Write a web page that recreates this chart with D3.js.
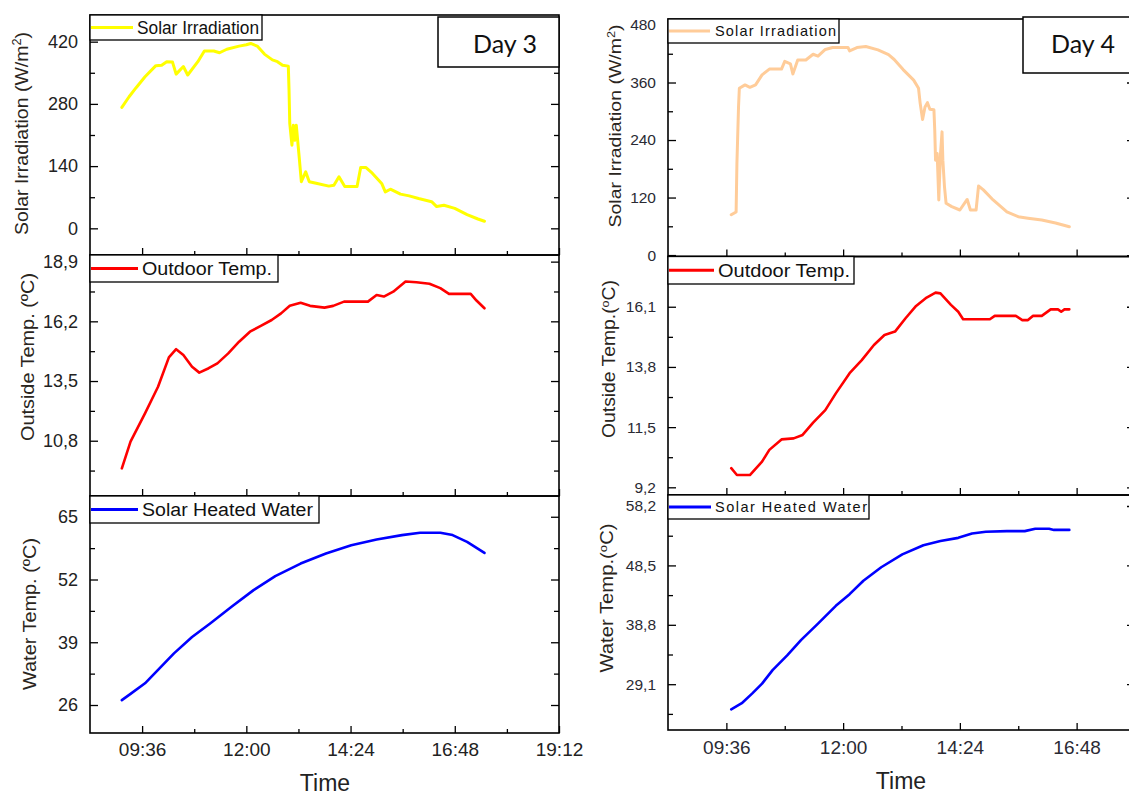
<!DOCTYPE html>
<html><head><meta charset="utf-8">
<script src="https://cdn.jsdelivr.net/npm/d3@7/dist/d3.min.js"></script>
<style>body{margin:0;background:#fff}svg{display:block}</style>
</head><body>
<svg id="c" width="1129" height="797"></svg>
<script>
// ---------------- DATA ----------------
const day3Irradiation = [["09:08",272],["09:18",296],["09:28",317],["09:40",341],["09:55",366],["10:03",367],["10:10",375],["10:18",374],["10:23",347],["10:33",364],["10:39",345],["10:53",375],["11:02",399],["11:15",399],["11:23",395],["11:33",403],["11:50",410],["12:00",413],["12:06",416],["12:15",410],["12:25",392],["12:36",379],["12:43",375],["12:50",367],["12:58",365],["12:59",311],["13:00",236],["13:03",187],["13:05",232],["13:07",198],["13:09",232],["13:13",161],["13:16",105],["13:22",127],["13:27",105],["13:38",101],["13:54",95],["14:01",97],["14:08",116],["14:16",94],["14:33",94],["14:38",137],["14:45",137],["14:54",124],["15:07",101],["15:12",82],["15:19",88],["15:33",77],["15:45",73],["15:58",67],["16:16",60],["16:23",49],["16:33",52],["16:48",45],["17:05",31],["17:20",21],["17:29",16]];
const day3Outdoor = [["09:08",9.55],["09:20",10.76],["09:40",12.04],["09:58",13.24],["10:13",14.57],["10:23",14.94],["10:33",14.68],["10:45",14.15],["10:55",13.88],["11:08",14.08],["11:20",14.30],["11:35",14.75],["11:50",15.28],["12:05",15.73],["12:20",15.99],["12:35",16.26],["12:48",16.56],["13:00",16.90],["13:15",17.04],["13:28",16.90],["13:48",16.82],["14:00",16.90],["14:15",17.09],["14:48",17.09],["15:00",17.39],["15:10",17.32],["15:23",17.54],["15:40",18.00],["15:55",17.97],["16:13",17.90],["16:28",17.70],["16:40",17.44],["17:10",17.44],["17:18",17.14],["17:29",16.79]];
const day3Water = [["09:08",27.0],["09:20",28.3],["09:40",30.5],["10:00",33.6],["10:20",36.7],["10:45",40.1],["11:10",42.9],["11:40",46.4],["12:10",49.8],["12:40",52.7],["13:15",55.3],["13:50",57.4],["14:25",59.1],["15:00",60.3],["15:35",61.2],["16:00",61.7],["16:28",61.7],["16:45",61.2],["17:05",59.8],["17:29",57.5]];

const day4Irradiation = [["09:42",84],["09:48",90],["09:49",191],["09:51",310],["09:52",348],["09:59",355],["10:05",350],["10:12",355],["10:20",376],["10:29",388],["10:44",388],["10:48",404],["10:55",399],["10:58",378],["11:04",407],["11:14",407],["11:23",419],["11:29",415],["11:38",429],["11:47",433],["12:06",433],["12:08",426],["12:17",433],["12:28",435],["12:43",428],["12:56",418],["13:03",408],["13:14",387],["13:27",365],["13:33",348],["13:35",317],["13:38",283],["13:41",309],["13:44",318],["13:47",304],["13:52",303],["13:53",261],["13:54",198],["13:56",212],["13:58",115],["14:00",209],["14:02",257],["14:03",198],["14:05",143],["14:07",108],["14:14",101],["14:24",94],["14:33",116],["14:37",94],["14:44",94],["14:47",144],["14:53",136],["15:05",115],["15:22",90],["15:36",80],["15:48",77],["16:05",73],["16:22",67],["16:39",59]];
const day4Outdoor = [["09:42",9.93],["09:49",9.67],["10:05",9.67],["10:20",10.18],["10:29",10.63],["10:44",11.03],["10:59",11.07],["11:10",11.20],["11:23",11.67],["11:38",12.15],["11:51",12.79],["12:08",13.56],["12:23",14.06],["12:38",14.64],["12:51",15.02],["13:04",15.15],["13:17",15.66],["13:30",16.13],["13:43",16.45],["13:54",16.64],["14:00",16.61],["14:13",16.17],["14:22",15.91],["14:28",15.62],["15:01",15.62],["15:07",15.75],["15:33",15.75],["15:41",15.59],["15:48",15.59],["15:54",15.75],["16:05",15.75],["16:16",16.00],["16:25",16.00],["16:29",15.91],["16:33",16.00],["16:39",16.00]];
const day4Water = [["09:42",25.0],["09:55",26.0],["10:08",27.6],["10:20",29.2],["10:33",31.4],["10:51",33.8],["11:08",36.3],["11:29",39.0],["11:51",41.9],["12:08",43.8],["12:25",46.0],["12:47",48.2],["13:13",50.3],["13:39",51.8],["14:00",52.5],["14:22",53.0],["14:39",53.7],["14:56",54.0],["15:22",54.1],["15:44",54.1],["15:57",54.5],["16:14",54.5],["16:20",54.3],["16:39",54.3]];

const day3XDomain = ["08:24","19:12"];
const day3XTicks = ["09:36","12:00","14:24","16:48","19:12"];
const day3XMinor = ["10:48","13:12","15:36","18:00"];
const day4XDomain = ["08:24","18:00"];
const day4XTicks = ["09:36","12:00","14:24","16:48"];
const day4XMinor = ["10:48","13:12","15:36"];

const day3IrrDomain = [-60, 480], day3IrrTicks = [0,140,280,420], day3IrrMinor = [70,210,350];
const day3TempDomain = [8.3, 19.2], day3TempTicks = [10.8,13.5,16.2,18.9], day3TempMinor = [9.45,12.15,14.85,17.55];
const day3WaterDomain = [20.2, 69.3], day3WaterTicks = [26,39,52,65], day3WaterMinor = [32.5,45.5,58.5];
const day4IrrDomain = [-3, 492.5], day4IrrTicks = [0,120,240,360,480], day4IrrMinor = [60,180,300,420];
const day4TempDomain = [8.906, 18.02], day4TempTicks = [9.2,11.5,13.8,16.1], day4TempMinor = [10.35,12.65,14.95,17.25];
const day4WaterDomain = [21.62, 60.0], day4WaterTicks = [29.1,38.8,48.5,58.2], day4WaterMinor = [24.25,33.95,43.65,53.35];

const seriesNames = ["Solar Irradiation","Outdoor Temp.","Solar Heated Water"];
const dayLabels = ["Day 3","Day 4"];

// ---------------- DRAW ----------------
const svg = d3.select("#c");
const parseT = d3.timeParse("%H:%M");
const FONT = "'Liberation Sans', Arial, sans-serif";
const fmt = dec => v => dec ? v.toFixed(dec).replace(".", ",") : String(v);

const charts = [
  {
    x0: 90, x1: 559, xDomain: day3XDomain, xTicks: day3XTicks, xMinor: day3XMinor,
    tickFont: 18, xTickFont: 19, xLabPad: 10, textColor: "#222",
    day: dayLabels[0], dayBox: [438, 17, 121, 50], dayText: [505, 53],
    timeLabel: [325, 791],
    panels: [
      {top: 15, bottom: 255, domain: day3IrrDomain, ticks: day3IrrTicks, minor: day3IrrMinor, dec: 0,
       data: day3Irradiation, color: "#ffff00", width: 3,
       legend: {w: 172, h: 25, lineEnd: 133, textX: 137, len: 122, fs: 17.5, spacing: false, name: seriesNames[0]},
       title: {parts: [["Solar Irradiation (W/m"],["2", true],[")"]], bx: 28, cy: 133.5, len: 203, fs: 19}},
      {top: 255, bottom: 496, domain: day3TempDomain, ticks: day3TempTicks, minor: day3TempMinor, dec: 1,
       data: day3Outdoor, color: "#ff0000", width: 2.6,
       legend: {w: 188, h: 27, lineEnd: 138, textX: 142, len: 130, fs: 18, spacing: false, name: seriesNames[1]},
       title: {parts: [["Outside Temp. (ºC)"]], bx: 34, cy: 357, len: 168, fs: 18}},
      {top: 496, bottom: 733, domain: day3WaterDomain, ticks: day3WaterTicks, minor: day3WaterMinor, dec: 0,
       data: day3Water, color: "#0000ff", width: 2.6,
       legend: {w: 229, h: 27, lineEnd: 138, textX: 142, len: 171, fs: 18, spacing: false, name: seriesNames[2]},
       title: {parts: [["Water Temp. (ºC)"]], bx: 36, cy: 614, len: 152, fs: 18}}
    ]
  },
  {
    x0: 668, x1: 1135, xDomain: day4XDomain, xTicks: day4XTicks, xMinor: day4XMinor,
    tickFont: 15.5, xTickFont: 19, xLabPad: 11, textColor: "#2a2a33",
    day: dayLabels[1], dayBox: [1023, 17, 112, 56], dayText: [1083, 53],
    timeLabel: [901, 789],
    panels: [
      {top: 19, bottom: 256.5, domain: day4IrrDomain, ticks: day4IrrTicks, minor: day4IrrMinor, dec: 0,
       data: day4Irradiation, color: "#ffcc99", width: 3,
       legend: {w: 171, h: 24, lineEnd: 710, textX: 715, len: 121, fs: 14.5, spacing: true, name: seriesNames[0]},
       title: {parts: [["Solar Irradiation (W/m"],["2", true],[")"]], bx: 621, cy: 126, len: 203, fs: 17}},
      {top: 256.5, bottom: 495, domain: day4TempDomain, ticks: day4TempTicks, minor: day4TempMinor, dec: 1,
       data: day4Outdoor, color: "#ff0000", width: 2.6,
       legend: {w: 186, h: 27.5, lineEnd: 714, textX: 718, len: 132, fs: 18, spacing: false, name: seriesNames[1]},
       title: {parts: [["Outside Temp.("],["o", true],["C)"]], bx: 615, cy: 359, len: 158, fs: 18}},
      {top: 495, bottom: 730, domain: day4WaterDomain, ticks: day4WaterTicks, minor: day4WaterMinor, dec: 1,
       data: day4Water, color: "#0000ff", width: 2.6,
       legend: {w: 201, h: 24, lineEnd: 711, textX: 715, len: 152, fs: 14.5, spacing: true, name: seriesNames[2]},
       title: {parts: [["Water Temp.("],["o", true],["C)"]], bx: 613, cy: 598, len: 149, fs: 18}}
    ]
  }
];

function styleAxis(g, size, color) {
  g.select(".domain").remove();
  g.selectAll(".tick line").attr("stroke", "#000").attr("stroke-width", 1.3);
  g.selectAll("text").attr("font-family", FONT).attr("font-size", size).attr("fill", color);
}

charts.forEach((cfg, ci) => {
  const x = d3.scaleTime().domain(cfg.xDomain.map(parseT)).range([cfg.x0, cfg.x1]);
  const root = svg.append("g");
  cfg.panels.forEach((p, pi) => {
    const y = d3.scaleLinear().domain(p.domain).range([p.bottom, p.top]);
    const g = root.append("g");
    const clipId = `clip${ci}_${pi}`;
    svg.append("defs").append("clipPath").attr("id", clipId)
      .append("rect").attr("x", cfg.x0).attr("y", p.top).attr("width", cfg.x1 - cfg.x0).attr("height", p.bottom - p.top);

    const line = d3.line().x(d => x(parseT(d[0]))).y(d => y(d[1]));
    g.append("path").datum(p.data).attr("clip-path", `url(#${clipId})`)
      .attr("d", line).attr("fill", "none").attr("stroke", p.color)
      .attr("stroke-width", p.width).attr("stroke-linejoin", "round").attr("stroke-linecap", "round");

    // y axes
    g.append("g").attr("transform", `translate(${cfg.x0},0)`)
      .call(d3.axisLeft(y).tickValues(p.ticks).tickSize(-8).tickPadding(12).tickFormat(fmt(p.dec)))
      .call(s => styleAxis(s, cfg.tickFont, cfg.textColor));
    g.append("g").attr("transform", `translate(${cfg.x0},0)`)
      .call(d3.axisLeft(y).tickValues(p.minor).tickSize(-5).tickFormat(""))
      .call(s => styleAxis(s, cfg.tickFont, cfg.textColor));
    g.append("g").attr("transform", `translate(${cfg.x1},0)`)
      .call(d3.axisRight(y).tickValues(p.ticks).tickSize(-8).tickFormat(""))
      .call(s => styleAxis(s, cfg.tickFont, cfg.textColor));
    g.append("g").attr("transform", `translate(${cfg.x1},0)`)
      .call(d3.axisRight(y).tickValues(p.minor).tickSize(-5).tickFormat(""))
      .call(s => styleAxis(s, cfg.tickFont, cfg.textColor));

    // x axes
    const last = pi === cfg.panels.length - 1;
    g.append("g").attr("transform", `translate(0,${p.bottom})`)
      .call(d3.axisBottom(x).tickValues(cfg.xTicks.map(parseT)).tickSize(-7).tickPadding(cfg.xLabPad)
        .tickFormat(last ? d3.timeFormat("%H:%M") : ""))
      .call(s => styleAxis(s, cfg.xTickFont, cfg.textColor));
    g.append("g").attr("transform", `translate(0,${p.bottom})`)
      .call(d3.axisBottom(x).tickValues(cfg.xMinor.map(parseT)).tickSize(-4).tickFormat(""))
      .call(s => styleAxis(s, cfg.xTickFont, cfg.textColor));

    // frame
    g.append("rect").attr("x", cfg.x0).attr("y", p.top).attr("width", cfg.x1 - cfg.x0)
      .attr("height", p.bottom - p.top).attr("fill", "none").attr("stroke", "#000").attr("stroke-width", 1.6);

    // legend
    const L = p.legend;
    const lg = g.append("g");
    lg.append("rect").attr("x", cfg.x0).attr("y", p.top).attr("width", L.w).attr("height", L.h)
      .attr("fill", "#fff").attr("stroke", "#000").attr("stroke-width", 1.3);
    lg.append("line").attr("x1", cfg.x0 + 1).attr("x2", L.lineEnd).attr("y1", p.top + L.h / 2).attr("y2", p.top + L.h / 2)
      .attr("stroke", p.color).attr("stroke-width", 3);
    lg.append("text").attr("x", L.textX).attr("y", p.top + L.h / 2 + L.fs * 0.36)
      .attr("font-family", FONT).attr("font-size", L.fs).attr("fill", "#111")
      .attr("textLength", L.len).attr("lengthAdjust", L.spacing ? "spacing" : "spacingAndGlyphs")
      .text(L.name);

    // y title
    const T = p.title;
    const t = g.append("text").attr("transform", `translate(${T.bx},${T.cy}) rotate(-90)`)
      .attr("text-anchor", "middle").attr("font-family", FONT).attr("font-size", T.fs).attr("fill", "#2a2520")
      .attr("textLength", T.len).attr("lengthAdjust", "spacingAndGlyphs");
    T.parts.forEach(([s, sup]) => {
      const ts = t.append("tspan").text(s);
      if (sup) ts.attr("baseline-shift", "super").attr("font-size", T.fs * 0.65);
    });
  });

  // Day box
  const b = cfg.dayBox;
  root.append("rect").attr("x", b[0]).attr("y", b[1]).attr("width", b[2]).attr("height", b[3])
    .attr("fill", "#fff").attr("stroke", "#000").attr("stroke-width", 1.5);
  root.append("text").attr("x", cfg.dayText[0]).attr("y", cfg.dayText[1]).attr("text-anchor", "middle")
    .attr("font-family", "Lato, 'Open Sans', sans-serif").attr("font-size", 25).attr("fill", "#111").text(cfg.day);

  // Time label
  root.append("text").attr("x", cfg.timeLabel[0]).attr("y", cfg.timeLabel[1]).attr("text-anchor", "middle")
    .attr("font-family", FONT).attr("font-size", 23).attr("fill", "#222").text("Time");
});
</script>
</body></html>
